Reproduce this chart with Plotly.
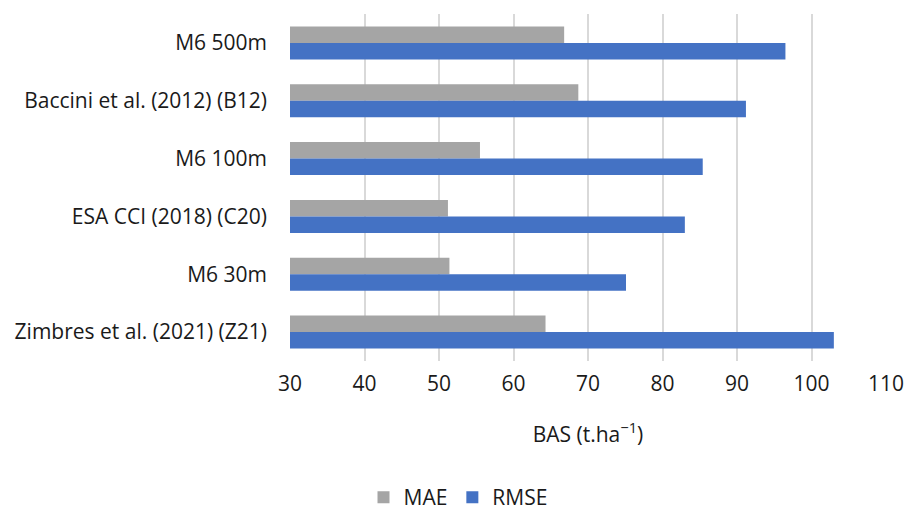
import plotly.graph_objects as go

# Error metrics of aboveground biomass products (t/ha)
categories = [
    "M6 500m",
    "Baccini et al. (2012) (B12)",
    "M6 100m",
    "ESA CCI (2018) (C20)",
    "M6 30m",
    "Zimbres et al. (2021) (Z21)",
]
mae = [66.8, 68.7, 55.5, 51.2, 51.4, 64.3]
rmse = [96.5, 91.2, 85.4, 83.0, 75.1, 103.0]
x_ticks = [30, 40, 50, 60, 70, 80, 90, 100, 110]

font_family = "Open Sans"
text_color = "#1a1a1a"
fs = 21

fig = go.Figure()
fig.add_trace(go.Bar(
    name="MAE", y=categories, x=mae, orientation="h",
    marker=dict(color="#A5A5A5", line=dict(width=0)),
))
fig.add_trace(go.Bar(
    name="RMSE", y=categories, x=rmse, orientation="h",
    marker=dict(color="#4472C4", line=dict(width=0)),
))

fig.update_layout(
    width=916, height=513,
    margin=dict(l=290, r=19, t=14, b=152),
    paper_bgcolor="white", plot_bgcolor="white",
    font=dict(family=font_family, size=fs, color=text_color),
    barmode="group",
    bargap=0.43, bargroupgap=0,
    showlegend=True,
    legend=dict(
        orientation="h", xref="container", yref="container",
        x=0.5, xanchor="center", y=0.03, yanchor="middle",
        font=dict(family=font_family, size=fs, color=text_color),
        itemwidth=30, traceorder="normal",
    ),
    xaxis=dict(
        range=[30, 110], tickvals=x_ticks, ticktext=[str(v) for v in x_ticks],
        tickfont=dict(family=font_family, size=fs, color=text_color),
        showgrid=True, gridcolor="#D9D9D9", gridwidth=1.5,
        zeroline=False, showline=False, ticks="", ticklabelstandoff=8,
        title=dict(text="BAS (t.ha<sup>\u22121</sup>)", standoff=31,
                   font=dict(family=font_family, size=fs, color=text_color)),
        fixedrange=True,
    ),
    yaxis=dict(
        autorange="reversed", showgrid=False, zeroline=False, showline=False,
        tickfont=dict(family=font_family, size=fs, color=text_color),
        ticks="", ticklabelstandoff=22, fixedrange=True,
    ),
)

fig.write_html("out.html")
